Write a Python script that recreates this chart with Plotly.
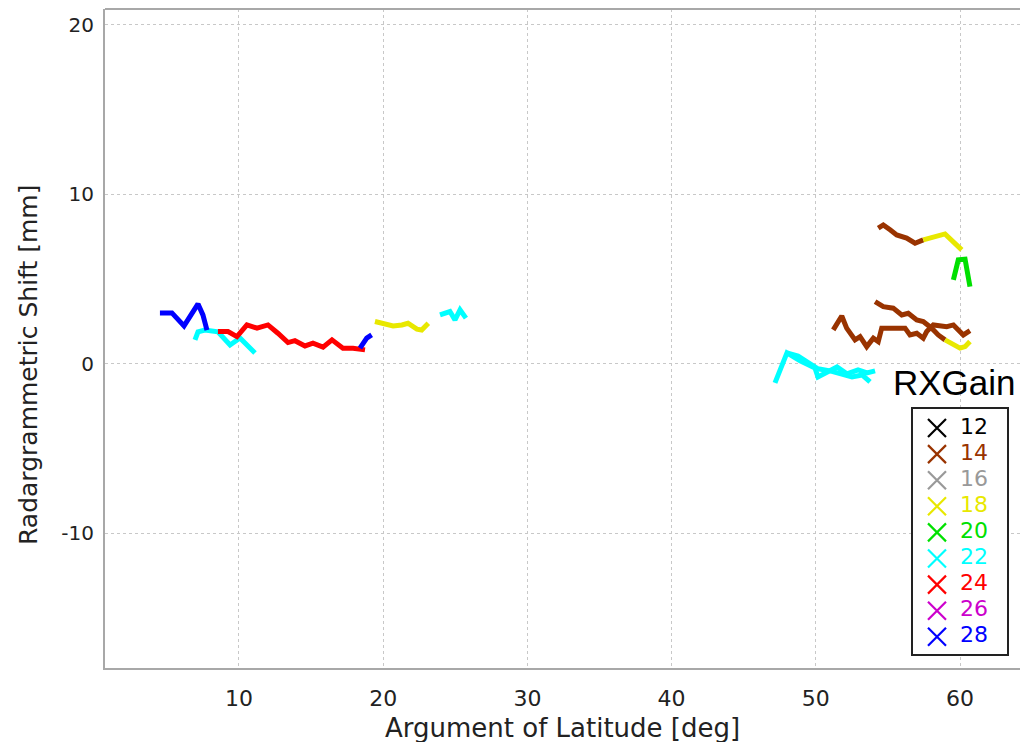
import plotly.graph_objects as go

# ---------------- data ----------------
rx_gains = [12, 14, 16, 18, 20, 22, 24, 26, 28]
gain_colors = ["#000000", "#993300", "#999999", "#e8e800", "#00e000",
               "#00ffff", "#ff0000", "#cc00cc", "#0000ff"]

# RXGain 28 (blue)
g28_a_x = [4.52, 5.35, 6.19, 7.16, 7.50, 7.78]
g28_a_y = [3.01, 3.01, 2.24, 3.54, 2.89, 2.00]
g28_b_x = [18.39, 18.86, 19.20]
g28_b_y = [0.93, 1.52, 1.71]

# RXGain 22 (cyan)
g22_a_x = [6.95, 7.16, 7.64, 8.54, 9.38, 10.07, 11.11]
g22_a_y = [1.42, 1.89, 2.00, 1.89, 1.12, 1.53, 0.65]
g22_b_x = [23.94, 24.63, 24.98, 25.33, 25.74]
g22_b_y = [2.89, 3.09, 2.60, 3.19, 2.70]
g22_c_x = [47.17, 48.00, 48.91, 49.94, 50.15, 50.85, 51.47, 52.16, 52.93, 53.55, 54.11]
g22_c_y = [-1.12, 0.65, 0.18, -0.24, -0.77, -0.47, -0.18, -0.59, -0.35, -0.53, -0.41]
g22_d_x = [48.00, 48.77, 49.39, 50.15, 50.99, 51.68, 52.51, 53.21, 53.76]
g22_d_y = [0.65, 0.47, 0.12, -0.29, -0.41, -0.59, -0.77, -0.65, -1.06]

# RXGain 24 (red)
g24_a_x = [8.54, 9.24, 9.86, 10.55, 11.25, 12.01, 12.70, 13.40, 13.88, 14.58,
           15.13, 15.83, 16.45, 17.21, 17.91, 18.74]
g24_a_y = [1.91, 1.91, 1.61, 2.30, 2.11, 2.30, 1.81, 1.26, 1.37, 1.06,
           1.22, 0.99, 1.42, 0.93, 0.93, 0.83]

# RXGain 18 (yellow)
g18_a_x = [19.43, 20.24, 20.69, 21.30, 21.72, 22.34, 22.67, 23.13]
g18_a_y = [2.50, 2.36, 2.24, 2.30, 2.40, 2.05, 2.00, 2.40]
g18_b_x = [57.45, 58.27, 58.96, 60.12]
g18_b_y = [7.32, 7.49, 7.67, 6.73]
g18_c_x = [58.96, 60.00, 60.35, 60.69]
g18_c_y = [1.42, 0.93, 1.02, 1.32]

# RXGain 14 (brown)
g14_a_x = [54.33, 54.68, 55.15, 55.61, 56.30, 56.88, 57.45]
g14_a_y = [8.01, 8.20, 7.91, 7.61, 7.42, 7.12, 7.32]
g14_b_x = [51.21, 51.45, 51.80, 52.14, 52.72, 53.07, 53.53, 53.99, 54.33, 54.57,
           55.37, 56.19, 56.53, 57.00, 57.45, 57.69, 58.15, 58.61, 59.08, 59.54,
           60.23, 60.69]
g14_b_y = [2.01, 2.40, 2.83, 2.11, 1.42, 1.61, 1.02, 1.52, 1.32, 2.11,
           2.11, 2.11, 1.71, 1.81, 1.52, 1.91, 2.30, 2.24, 2.20, 2.30,
           1.71, 1.96]
g14_c_x = [54.11, 54.68, 55.37, 55.96, 56.41, 57.00, 57.45, 58.04, 58.49, 58.96]
g14_c_y = [3.68, 3.38, 3.29, 2.89, 2.99, 2.60, 2.50, 2.11, 1.71, 1.42]

# RXGain 20 (green)
g20_a_x = [59.54, 59.88, 60.35, 60.69]
g20_a_y = [4.96, 6.14, 6.18, 4.56]

x_ticks = [10, 20, 30, 40, 50, 60]
y_ticks = [-10, 0, 10, 20]

segments = {
    14: [(g14_a_x, g14_a_y), (g14_b_x, g14_b_y), (g14_c_x, g14_c_y)],
    18: [(g18_a_x, g18_a_y), (g18_b_x, g18_b_y), (g18_c_x, g18_c_y)],
    20: [(g20_a_x, g20_a_y)],
    22: [(g22_a_x, g22_a_y), (g22_b_x, g22_b_y), (g22_c_x, g22_c_y), (g22_d_x, g22_d_y)],
    24: [(g24_a_x, g24_a_y)],
    28: [(g28_a_x, g28_a_y), (g28_b_x, g28_b_y)],
}

# ---------------- figure ----------------
W, H = 1020, 742
L, R, T, B = 105, 0, 9, 74
pw, ph = W - L - R, H - T - B


def px_x(p):
    return (p - L) / pw


def px_y(p):
    return (H - B - p) / ph


fig = go.Figure()
for gain, segs in segments.items():
    col = gain_colors[rx_gains.index(gain)]
    xs, ys = [], []
    for sx, sy in segs:
        xs += list(sx) + [None]
        ys += list(sy) + [None]
    fig.add_trace(go.Scatter(x=xs, y=ys, mode="lines", showlegend=False,
                             line=dict(color=col, width=5),
                             connectgaps=False, hoverinfo="skip"))

# legend drawn on an overlay axis (pixel units inside the legend box)
box_l, box_t, box_r, box_b = 912, 408, 1008, 655
bw, bh = box_r - box_l, box_b - box_t
first_y, step = 20, 26.1
leg_y = [first_y + step * i for i in range(len(rx_gains))]
fig.add_trace(go.Scatter(
    x=[25] * len(rx_gains), y=leg_y, mode="markers", xaxis="x2", yaxis="y2",
    showlegend=False, hoverinfo="skip",
    marker=dict(symbol="x-thin-open", size=18, color=gain_colors,
                line=dict(color=gain_colors, width=2.2))))
fig.add_trace(go.Scatter(
    x=[48] * len(rx_gains), y=leg_y, mode="text", xaxis="x2", yaxis="y2",
    text=[str(g) for g in rx_gains], textposition="middle right",
    textfont=dict(family="DejaVu Sans", size=22, color=gain_colors),
    showlegend=False, hoverinfo="skip"))

grid_col = "#c8c8c8"
axis_col = "#a8a8a8"
txt_col = "#222222"

fig.update_layout(
    width=W, height=H,
    margin=dict(l=L, r=R, t=T, b=B, autoexpand=False),
    paper_bgcolor="white", plot_bgcolor="white",
    showlegend=False,
    xaxis=dict(range=[0.71, 64.16], tickvals=x_ticks, ticktext=[str(v) for v in x_ticks],
               showgrid=True, gridcolor=grid_col, griddash="dot", gridwidth=1,
               zeroline=False, showline=True, linecolor=axis_col, linewidth=2,
               ticks="outside", ticklen=10, tickcolor="rgba(0,0,0,0)",
               tickfont=dict(family="DejaVu Sans", size=22, color=txt_col)),
    yaxis=dict(range=[-17.94, 20.94], tickvals=y_ticks, ticktext=[str(v) for v in y_ticks],
               showgrid=True, gridcolor=grid_col, griddash="dot", gridwidth=1,
               zeroline=False, showline=True, linecolor=axis_col, linewidth=2,
               ticks="outside", ticklen=5, tickcolor="rgba(0,0,0,0)",
               tickfont=dict(family="DejaVu Sans", size=20, color=txt_col)),
    xaxis2=dict(domain=[px_x(box_l), px_x(box_r)], range=[0, bw],
                anchor="y2", visible=False, fixedrange=True),
    yaxis2=dict(domain=[px_y(box_b), px_y(box_t)], range=[bh, 0],
                anchor="x2", visible=False, fixedrange=True),
    shapes=[
        dict(type="line", xref="paper", yref="paper", x0=0, x1=1, y0=1, y1=1,
             line=dict(color=axis_col, width=2)),
        dict(type="rect", xref="paper", yref="paper",
             x0=px_x(box_l), x1=px_x(box_r), y0=px_y(box_b), y1=px_y(box_t),
             line=dict(color=txt_col, width=2), fillcolor="rgba(0,0,0,0)"),
    ],
    annotations=[
        dict(text="RXGain", xref="paper", yref="paper",
             x=px_x(954), y=px_y(382), showarrow=False,
             xanchor="center", yanchor="middle",
             font=dict(family="Liberation Sans", size=35, color="black")),
        dict(text="Argument of Latitude [deg]", xref="paper", yref="paper",
             x=px_x(562), y=px_y(728), showarrow=False,
             xanchor="center", yanchor="middle",
             font=dict(family="DejaVu Sans", size=26, color=txt_col)),
        dict(text="Radargrammetric Shift [mm]", xref="paper", yref="paper",
             x=px_x(28), y=px_y(365), showarrow=False, textangle=-90,
             xanchor="center", yanchor="middle",
             font=dict(family="DejaVu Sans", size=25, color=txt_col)),
    ],
)

fig.write_html("out.html")
